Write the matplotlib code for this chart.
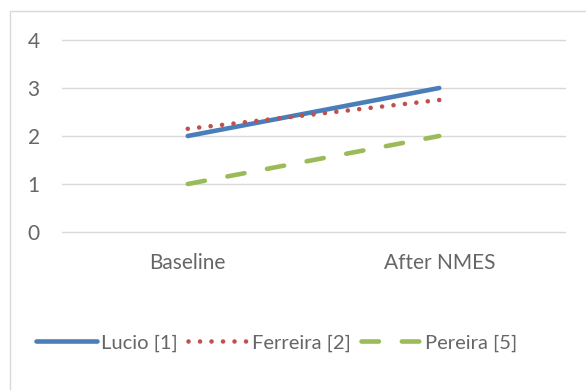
import matplotlib.pyplot as plt
from matplotlib.patches import Rectangle

categories = ['Baseline', 'After NMES']
lucio = [2.0, 3.0]
ferreira = [2.15, 2.75]
pereira = [1.0, 2.0]
yticks = [0, 1, 2, 3, 4]

plt.rcParams['font.family'] = ['Lato', 'DejaVu Sans']
grey = '#666666'

fig = plt.figure(figsize=(5.86, 3.90), dpi=100)
fig.patches.append(Rectangle((10 / 586, -0.1), 1.2, (390 - 11) / 390 + 0.1,
                             transform=fig.transFigure, fill=False,
                             edgecolor='#d9d9d9', linewidth=1.0))

ax = fig.add_axes([62 / 586, 1 - 232 / 390, 503 / 586, 192 / 390])
x = [0, 1]
ax.plot(x, lucio, color='#4a7ebb', linewidth=3.3, solid_capstyle='round', label='Lucio [1]')
ax.plot(x, ferreira, color='#c0504d', linewidth=3.3, linestyle=(0, (0.01, 2.5)),
        dash_capstyle='round', label='Ferreira [2]')
ax.plot(x, pereira, color='#9bbb59', linewidth=3.3, linestyle=(0, (3.8, 5.0)),
        dash_capstyle='round', label='Pereira [5]')

ax.set_xlim(-0.5, 1.5)
ax.set_ylim(0, 4)
ax.set_yticks(yticks)
ax.set_xticks(x)
ax.set_xticklabels(categories)
ax.grid(axis='y', color='#d9d9d9', linewidth=1.0)
for gl in ax.get_ygridlines():
    gl.set_clip_on(False)
ax.set_axisbelow(True)
for s in ax.spines.values():
    s.set_visible(False)
ax.tick_params(length=0, labelcolor=grey, labelsize=15)
ax.tick_params(axis='x', pad=15)
ax.tick_params(axis='y', pad=16)

leg = fig.legend(loc='center', bbox_to_anchor=(277 / 586, 1 - 343 / 390), ncol=3,
                 frameon=False, fontsize=14.5, handlelength=3.0, handletextpad=0.2,
                 columnspacing=0.5, labelcolor=grey)

fig.savefig('out.png', dpi=100)
